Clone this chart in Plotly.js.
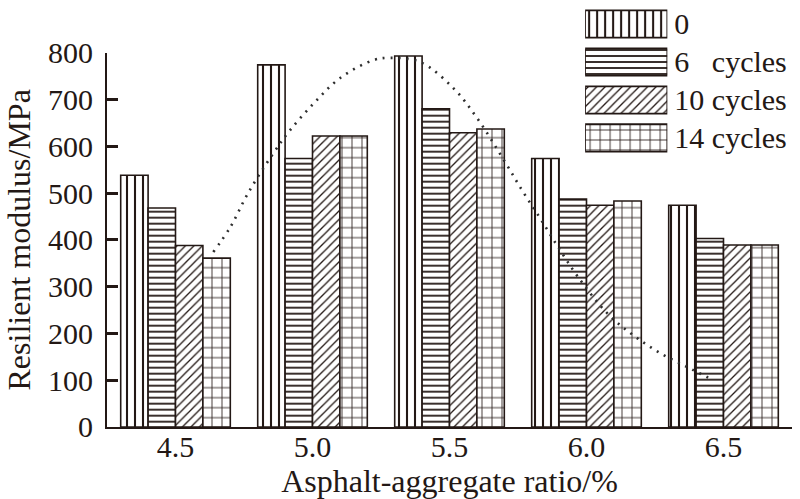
<!DOCTYPE html>
<html>
<head>
<meta charset="utf-8">
<script src="https://cdn.plot.ly/plotly-3.0.1.min.js"></script>
<style>
  html, body { margin: 0; padding: 0; background: #fff; }
  #chart { width: 800px; height: 499px; }
</style>
</head>
<body>
<div id="chart"></div>
<script>
// Asphalt-aggregate ratio groups (x categories)
const ratios = ['4.5', '5.0', '5.5', '6.0', '6.5'];

// Resilient modulus (MPa) after freeze-thaw cycles
const cycles0  = [538, 774, 793, 574, 474];
const cycles6  = [468, 574, 680, 487, 403];
const cycles10 = [388, 622, 629, 474, 389];
const cycles14 = [361, 622, 637, 483, 389];

// Series names as shown in the key
const seriesNames = ['0', '6\u00a0\u00a0\u00a0cycles', '10 cycles', '14 cycles'];

// Dotted trend curve through the groups (ratio %, MPa)
const trendRatio = [4.638, 4.700, 4.765, 4.857, 4.919, 5.010, 5.101, 5.222, 5.284, 5.393,
                    5.513, 5.601, 5.703, 5.769, 5.831, 5.897, 5.970, 6.076, 6.171, 6.269,
                    6.368, 6.463];
const trendModulus = [374, 427, 500, 585, 635, 695, 746, 784, 789, 780,
                      725, 660, 566, 502, 446, 384, 320, 243, 196, 158,
                      128, 100];

const ink = '#231815';
const serif = 'Liberation Serif, Times New Roman, serif';

// Hatch style for each series
const hatches = [
  { shape: '|', size: 8, solidity: 0.26 },
  { shape: '-', size: 6, solidity: 0.3 },
  { shape: '/', size: 6, solidity: 0.22 },
  { shape: '+', size: 10, solidity: 0.16 }
];

const seriesValues = [cycles0, cycles6, cycles10, cycles14];

const traces = seriesValues.map((vals, i) => ({
  type: 'bar',
  x: ratios,
  y: vals,
  name: seriesNames[i],
  xaxis: 'x',
  yaxis: 'y',
  marker: {
    color: '#ffffff',
    line: { color: ink, width: 1.6 },
    pattern: {
      shape: hatches[i].shape,
      size: hatches[i].size,
      solidity: hatches[i].solidity,
      fgcolor: ink,
      bgcolor: '#ffffff',
      fillmode: 'replace'
    }
  },
  hoverinfo: 'skip'
}));

// Trend curve on an overlaid numeric x axis
traces.push({
  type: 'scatter',
  mode: 'lines',
  x: trendRatio,
  y: trendModulus,
  xaxis: 'x2',
  yaxis: 'y',
  line: { color: '#2e2e2e', width: 2.6, dash: '2px,6px', shape: 'spline', smoothing: 1 },
  hoverinfo: 'skip'
});

// Key: one swatch per series, drawn as horizontal bars on their own axes
traces.push({
  type: 'bar',
  orientation: 'h',
  y: seriesNames,
  x: seriesNames.map(() => 1),
  width: 0.72,
  xaxis: 'x3',
  yaxis: 'y3',
  marker: {
    color: '#ffffff',
    line: { color: ink, width: 1.8 },
    pattern: {
      shape: hatches.map(h => h.shape),
      size: hatches.map(h => h.size),
      solidity: hatches.map(h => h.solidity),
      fgcolor: ink,
      bgcolor: '#ffffff',
      fillmode: 'replace'
    }
  },
  hoverinfo: 'skip'
});

const layout = {
  width: 800,
  height: 499,
  margin: { l: 107, r: 8, t: 5, b: 72, pad: 0 },
  paper_bgcolor: '#ffffff',
  plot_bgcolor: 'rgba(0,0,0,0)',
  showlegend: false,
  barmode: 'group',
  bargap: 0.2,
  bargroupgap: 0,
  font: { family: serif, color: ink, size: 30 },
  xaxis: {
    type: 'category',
    domain: [0, 1],
    range: [-0.5, 4.5],
    showline: true,
    linecolor: ink,
    linewidth: 2,
    ticks: '',
    ticklabelstandoff: -8,
    showgrid: false,
    zeroline: false,
    tickfont: { family: serif, size: 30, color: ink },
    title: { text: 'Asphalt-aggregate ratio/%', font: { family: serif, size: 32, color: ink }, standoff: 0 },
    automargin: false
  },
  xaxis2: {
    overlaying: 'x',
    anchor: 'y',
    range: [4.25, 6.75],
    visible: false,
    fixedrange: true
  },
  yaxis: {
    domain: [0, 0.887],
    range: [0, 800],
    tickvals: [0, 100, 200, 300, 400, 500, 600, 700, 800],
    showline: true,
    linecolor: ink,
    linewidth: 2,
    ticks: 'inside',
    ticklen: 11,
    tickwidth: 3,
    tickcolor: ink,
    ticklabelstandoff: 6,
    showgrid: false,
    zeroline: false,
    tickfont: { family: serif, size: 30, color: ink },
    title: { text: 'Resilient modulus/MPa', font: { family: serif, size: 32, color: ink }, standoff: 8 },
    automargin: false
  },
  xaxis3: {
    domain: [0.698, 0.818],
    anchor: 'y3',
    range: [0, 1],
    visible: false,
    fixedrange: true
  },
  yaxis3: {
    domain: [0.64, 1.0],
    anchor: 'x3',
    type: 'category',
    autorange: 'reversed',
    side: 'right',
    showline: false,
    ticks: '',
    showgrid: false,
    zeroline: false,
    ticklabelstandoff: 6,
    tickfont: { family: serif, size: 30, color: ink },
    fixedrange: true
  }
};

Plotly.newPlot('chart', traces, layout, { staticPlot: true, displayModeBar: false });
</script>
</body>
</html>
